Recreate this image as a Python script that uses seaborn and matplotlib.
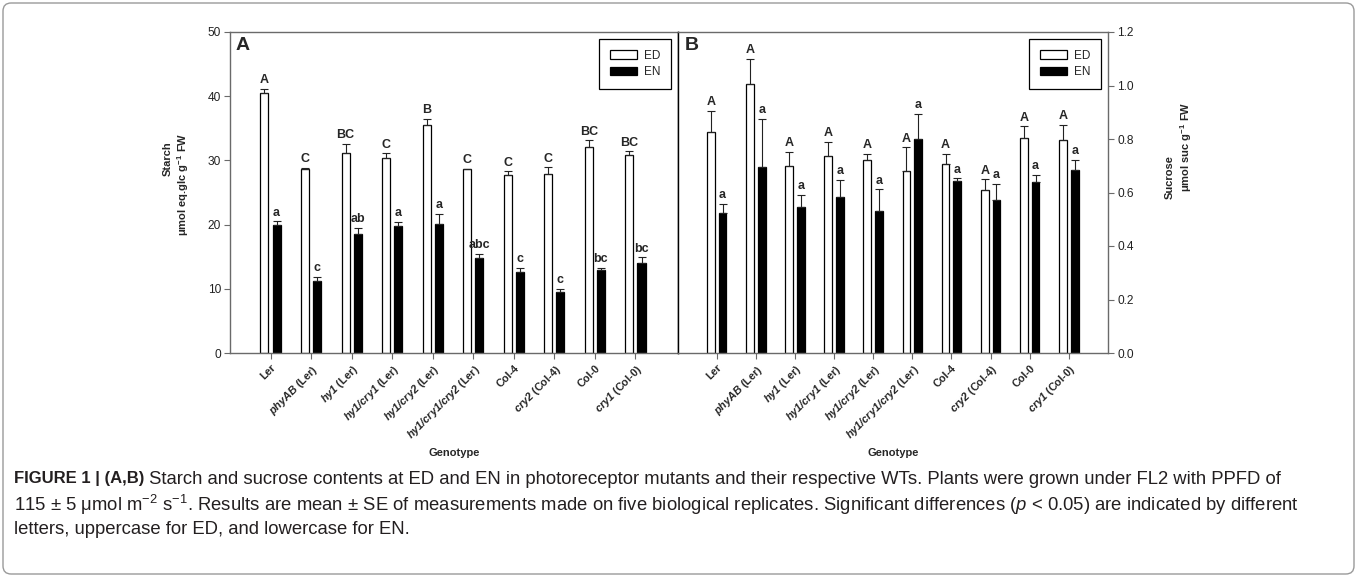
import numpy as np
import pandas as pd
import matplotlib
matplotlib.use("Agg")
import matplotlib.pyplot as plt
import seaborn as sns
from matplotlib.patches import FancyBboxPatch

# ---------------- data ----------------
genotypes = ["Ler", "phyAB (Ler)", "hy1 (Ler)", "hy1/cry1 (Ler)", "hy1/cry2 (Ler)",
             "hy1/cry1/cry2 (Ler)", "Col-4", "cry2 (Col-4)", "Col-0", "cry1 (Col-0)"]
periods = ["ED", "EN"]

starch_ed = [40.5, 28.7, 31.15, 30.4, 35.45, 28.6, 27.7, 27.9, 32.1, 30.9]
starch_ed_se = [0.6, 0.1, 1.4, 0.7, 1.0, 0.1, 0.6, 1.0, 1.0, 0.5]
starch_en = [19.9, 11.2, 18.5, 19.75, 20.1, 14.8, 12.6, 9.5, 13.0, 14.05]
starch_en_se = [0.6, 0.7, 1.0, 0.65, 1.6, 0.6, 0.6, 0.45, 0.2, 0.85]

sucrose_ed = [0.827, 1.007, 0.698, 0.738, 0.722, 0.680, 0.707, 0.611, 0.803, 0.795]
sucrose_ed_se = [0.078, 0.092, 0.053, 0.052, 0.021, 0.089, 0.037, 0.038, 0.044, 0.057]
sucrose_en = [0.522, 0.694, 0.545, 0.583, 0.532, 0.799, 0.643, 0.572, 0.640, 0.685]
sucrose_en_se = [0.035, 0.18, 0.045, 0.064, 0.08, 0.094, 0.01, 0.059, 0.027, 0.036]

starch_ed_letters = ["A", "C", "BC", "C", "B", "C", "C", "C", "BC", "BC"]
starch_en_letters = ["a", "c", "ab", "a", "a", "abc", "c", "c", "bc", "bc"]
sucrose_ed_letters = ["A"] * 10
sucrose_en_letters = ["a"] * 10

starch_ticks = [0, 10, 20, 30, 40, 50]
sucrose_ticks = [0.0, 0.2, 0.4, 0.6, 0.8, 1.0, 1.2]

caption_bold = "FIGURE 1 | (A,B)"
caption_1 = (" Starch and sucrose contents at ED and EN in photoreceptor mutants and their "
             "respective WTs. Plants were grown under FL2 with PPFD of")
caption_2 = ("115 \u00b1 5 \u03bcmol m$^{-2}$ s$^{-1}$. Results are mean \u00b1 SE of measurements made "
             "on five biological replicates. Significant differences ($p$ < 0.05) are indicated by different")
caption_3 = "letters, uppercase for ED, and lowercase for EN."

# ---------------- style ----------------
sns.set_style("ticks")
plt.rcParams["font.family"] = ["Liberation Sans", "DejaVu Sans"]
plt.rcParams["mathtext.fontset"] = "custom"
plt.rcParams["mathtext.rm"] = "Liberation Sans"
plt.rcParams["mathtext.it"] = "Liberation Sans:italic"
plt.rcParams["mathtext.bf"] = "Liberation Sans:bold"
has_bfit = True
try:
    plt.rcParams["mathtext.bfit"] = "Liberation Sans:italic:bold"
except KeyError:
    has_bfit = False

SPINE = "#6a6a6a"
W, H = 1357, 577
fig = plt.figure(figsize=(W / 100, H / 100), dpi=100)


def px_axes(l, t, r, b):
    return fig.add_axes([l / W, 1 - b / H, (r - l) / W, (b - t) / H])


axA = px_axes(230, 32, 678, 353)
axB = px_axes(678, 32, 1108, 353)


def tick_label(name):
    if " (" in name:
        mut, bg = name.split(" ", 1)
        if has_bfit:
            return r"$\mathbfit{" + mut + "}$ " + bg
        return name
    return name


def draw_panel(ax, ed, ed_se, en, en_se, ed_let, en_let):
    df = pd.DataFrame({
        "Genotype": genotypes * 2,
        "Period": ["ED"] * len(genotypes) + ["EN"] * len(genotypes),
        "Value": list(ed) + list(en),
    })
    sns.barplot(data=df, x="Genotype", y="Value", hue="Period", order=genotypes,
                hue_order=periods, palette={"ED": "white", "EN": "black"},
                edgecolor="black", linewidth=0.9, width=0.6, gap=0.34,
                errorbar=None, ax=ax)
    for cont, se, lets in zip(ax.containers, [ed_se, en_se], [ed_let, en_let]):
        xs = [b.get_x() + b.get_width() / 2 for b in cont]
        hs = [b.get_height() for b in cont]
        ax.errorbar(xs, hs, yerr=[np.zeros(len(se)), se], fmt="none", ecolor="#222222",
                    elinewidth=0.8, capsize=3.2, capthick=0.8, zorder=3)
        for x, h, s, l in zip(xs, hs, se, lets):
            ax.annotate(l, (x, h + s), xytext=(0, 2), textcoords="offset points",
                        ha="center", va="bottom", fontsize=9, fontweight="bold")
    leg = ax.get_legend()
    handles = list(leg.legend_handles)
    labels = [t.get_text() for t in leg.get_texts()]
    leg.remove()
    lg = ax.legend(handles, labels, loc="upper right", frameon=True, fancybox=False,
                   edgecolor="black", fontsize=8.5, handlelength=2.3, handleheight=0.7,
                   borderpad=0.9, borderaxespad=0.6, labelspacing=0.4,
                   handletextpad=0.6, framealpha=1)
    lg.get_frame().set_linewidth(0.9)
    ax.set_xticks(range(len(genotypes)))
    ax.set_xticklabels([tick_label(g) for g in genotypes], rotation=45, ha="right",
                       rotation_mode="anchor", fontsize=7.8, fontweight="bold")
    ax.set_xlabel("Genotype", fontsize=8, fontweight="bold", labelpad=4)
    ax.tick_params(axis="x", length=4, width=0.8, color=SPINE, pad=3)
    ax.tick_params(axis="y", length=4, width=0.8, color=SPINE, labelsize=8.6,
                   labelcolor="#222222", pad=2.5)
    for s in ax.spines.values():
        s.set_color(SPINE)
        s.set_linewidth(1.0)
        s.set_visible(True)
    return ax


draw_panel(axA, starch_ed, starch_ed_se, starch_en, starch_en_se,
           starch_ed_letters, starch_en_letters)
axA.set_ylim(0, 50)
axA.set_yticks(starch_ticks)
axA.set_xlim(-1.0, 10.05)
axA.spines["right"].set_color("black")
axA.set_ylabel("Starch", fontsize=8, fontweight="bold", va="center")
axA.yaxis.set_label_coords((167.5 - 230) / 448, (353 - 158.5) / 321)
axA.text((183 - 230) / 448, (353 - 184) / 321, "\u03bcmol eq.glc g$^{\\mathbf{-1}}$ FW",
         transform=axA.transAxes, rotation=90, ha="center", va="center",
         fontsize=8, fontweight="bold")
axA.text(0.013, 0.985, "A", transform=axA.transAxes, fontsize=14, fontweight="bold",
         ha="left", va="top")

draw_panel(axB, sucrose_ed, sucrose_ed_se, sucrose_en, sucrose_en_se,
           sucrose_ed_letters, sucrose_en_letters)
axB.set_ylim(0, 1.2)
axB.set_yticks(sucrose_ticks)
axB.set_yticklabels([f"{t:.1f}" for t in sucrose_ticks])
axB.set_xlim(-0.99, 10.0)
axB.yaxis.tick_right()
axB.yaxis.set_label_position("right")
axB.spines["left"].set_color("black")
axB.set_ylabel("Sucrose", fontsize=8, fontweight="bold", va="center", rotation=90)
axB.yaxis.set_label_coords((1170 - 678) / 430, (353 - 177.5) / 321)
axB.text((1186 - 678) / 430, (353 - 146.5) / 321, "\u03bcmol suc g$^{\\mathbf{-1}}$ FW",
         transform=axB.transAxes, rotation=90, ha="center", va="center",
         fontsize=8, fontweight="bold")
axB.text(0.015, 0.985, "B", transform=axB.transAxes, fontsize=14, fontweight="bold",
         ha="left", va="top")

# ---------------- frame and caption ----------------
fig.patches.append(FancyBboxPatch((3 / W, 3 / H), (W - 6) / W, (H - 6) / H,
                                  boxstyle="round,pad=0,rounding_size=0.006",
                                  mutation_aspect=W / H, transform=fig.transFigure,
                                  facecolor="none", edgecolor="#9a9a9a", linewidth=1.0))

fs_bold = 12
fs = 13.3
cap_color = "#231f20"
x0 = 14 / W
tb = fig.text(x0, 1 - 479 / H, caption_bold, fontsize=fs_bold, fontweight="bold",
              va="center", ha="left", color=cap_color)
r = fig.canvas.get_renderer()
bb = tb.get_window_extent(r)
fig.text(bb.x1 / W, 1 - 479 / H, caption_1, fontsize=fs, va="center", ha="left",
         color=cap_color)
fig.text(x0, 1 - 505 / H, caption_2, fontsize=fs, va="center", ha="left", color=cap_color)
fig.text(x0, 1 - 530 / H, caption_3, fontsize=fs, va="center", ha="left", color=cap_color)

fig.savefig("out.png", dpi=100)
